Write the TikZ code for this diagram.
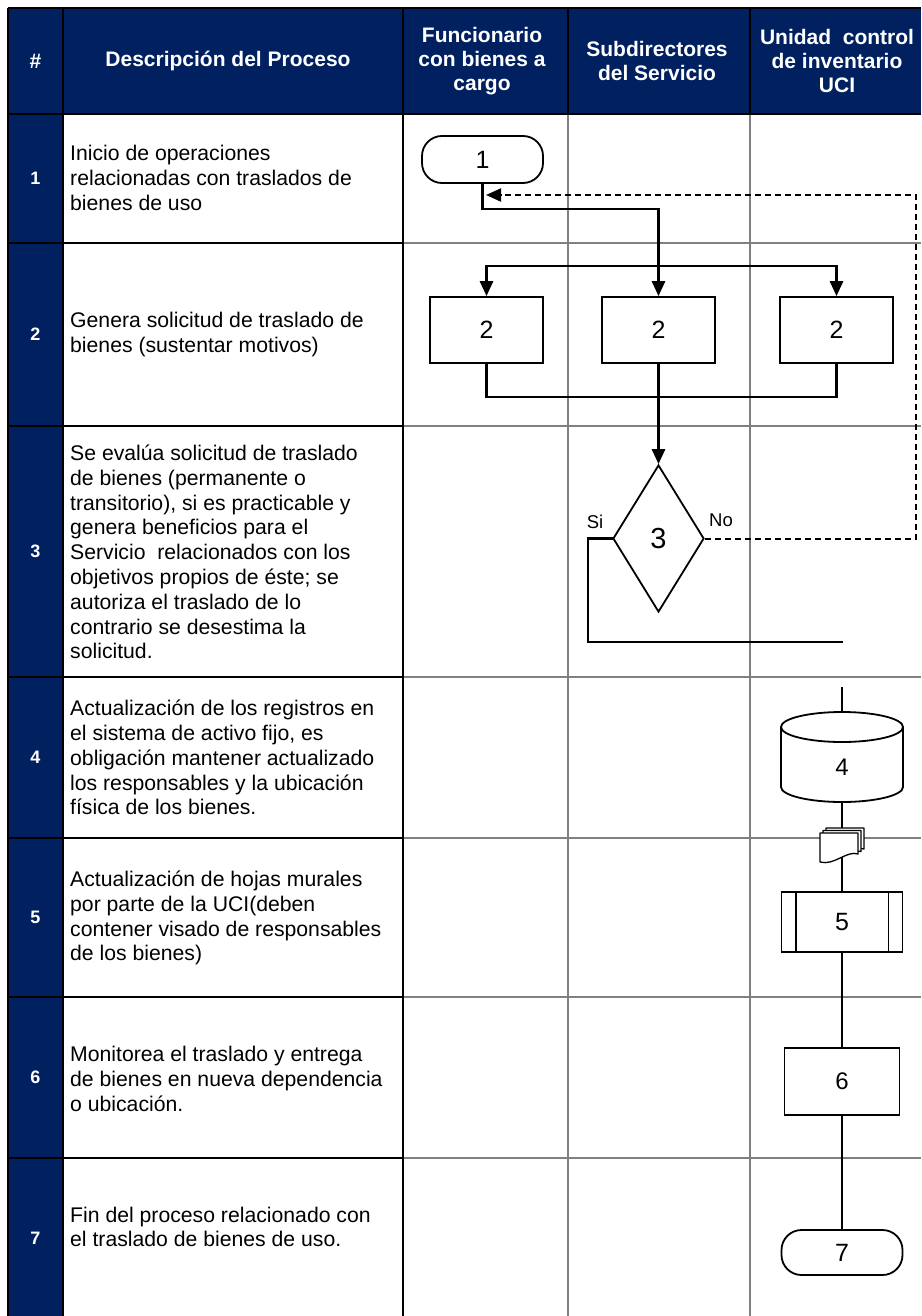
\documentclass[tikz,border=0pt]{standalone}
\usepackage{fontspec}
\setmainfont{Liberation Sans}
\usetikzlibrary{arrows.meta,shapes.geometric,calc}
\definecolor{hdrblue}{RGB}{0,32,96}
\definecolor{gridgrey}{RGB}{128,128,128}
\begin{document}
\begin{tikzpicture}[x=1pt,y=-1pt,
  blackline/.style={line width=2.5pt,black},
  greyline/.style={line width=2pt,gridgrey},
  flow/.style={line width=2.8pt,black,line cap=rect},
  flowarrow/.style={line width=2.8pt,black,-{Triangle[length=15pt,width=13pt]}},
  noflow/.style={line width=2pt,black,dash pattern=on 6pt off 4pt,-{Triangle[length=15pt,width=13pt]}},
  shp/.style={draw,line width=1.8pt,fill=white,inner sep=0pt,font=\fontsize{25}{30}\selectfont},
  desc/.style={anchor=west,align=left,inner sep=0pt,font=\fontsize{21.2}{24.8}\selectfont},
  num/.style={text=white,inner sep=0pt,font=\bfseries\fontsize{18}{22}\selectfont},
  hdr/.style={text=white,align=center,inner sep=0pt,font=\bfseries\fontsize{21}{24}\selectfont},
  lbl/.style={inner sep=0pt,font=\fontsize{18.5}{22}\selectfont}
]
\useasboundingbox[fill=white] (0,0) rectangle (921,1316);
% fills
\fill[hdrblue] (8,8) rectangle (921,114);
\fill[hdrblue] (8,114) rectangle (63,1316);
% grey grid
\foreach \yy in {243,426,677,838,997,1158} \draw[greyline] (403,\yy) -- (921,\yy);
\draw[greyline] (568,114) -- (568,1316);
\draw[greyline] (750,114) -- (750,1316);
% black grid
\draw[blackline] (8,8) -- (921,8);
\draw[blackline] (8,114) -- (921,114);
\draw[blackline] (8,8) -- (8,1316);
\draw[blackline] (63,8) -- (63,1316);
\draw[blackline] (403,8) -- (403,1316);
\draw[blackline] (568,8) -- (568,114);
\draw[blackline] (750,8) -- (750,114);
\foreach \yy in {243,426,677,838,997,1158} \draw[blackline] (8,\yy) -- (403,\yy);
% header
\node[hdr] (h0) at (35.5,61) {\#};
\node[hdr] (h1) at (228,61) {Descripción del Proceso};
\node[hdr] (h2) at (482,61) {Funcionario\\con bienes a\\cargo};
\node[hdr] (h3) at (657,61) {Subdirectores\\del Servicio};
\node[hdr] (h4) at (837,61) {Unidad~ control\\de inventario\\UCI};
% row numbers
\node[num] (n1) at (35.5,178.5) {1};
\node[num] (n2) at (35.5,334.5) {2};
\node[num] (n3) at (35.5,551.5) {3};
\node[num] (n4) at (35.5,757.5) {4};
\node[num] (n5) at (35.5,917.5) {5};
\node[num] (n6) at (35.5,1077.5) {6};
\node[num] (n7) at (35.5,1238) {7};
% descriptions
\node[desc] (tx1) at (70,178) {Inicio de operaciones\\relacionadas con traslados de\\bienes de uso};
\node[desc] (tx2) at (70,334.5) {Genera solicitud de traslado de\\bienes (sustentar motivos)};
\node[desc] (tx3) at (70,552) {Se evalúa solicitud de traslado\\de bienes (permanente o\\transitorio), si es practicable y\\genera beneficios para el\\Servicio~ relacionados con los\\objetivos propios de éste; se\\autoriza el traslado de lo\\contrario se desestima la\\solicitud.};
\node[desc] (tx4) at (70,757.5) {Actualización de los registros en\\el sistema de activo fijo, es\\obligación mantener actualizado\\los responsables y la ubicación\\física de los bienes.};
\node[desc] (tx5) at (70,918) {Actualización de hojas murales\\por parte de la UCI(deben\\contener visado de responsables\\de los bienes)};
\node[desc] (tx6) at (70,1079) {Monitorea el traslado y entrega\\de bienes en nueva dependencia\\o ubicación.};
\node[desc] (tx7) at (70,1227) {Fin del proceso relacionado con\\el traslado de bienes de uso.};
% flow shapes
\node[shp,rounded corners=20pt,minimum width=121pt,minimum height=47pt] (t1) at (482.5,159.5) {1};
\node[shp,minimum width=113pt,minimum height=66pt] (b2a) at (486.5,330) {2};
\node[shp,minimum width=113pt,minimum height=66pt] (b2b) at (658.5,330) {2};
\node[shp,minimum width=113pt,minimum height=66pt] (b2c) at (836.5,330) {2};
\node[shp,diamond,minimum width=91pt,minimum height=147pt,font=\fontsize{29}{32}\selectfont] (d3) at (658.5,538.5) {3};
\node[lbl] (si) at (595,522) {Si};
\node[lbl] (no) at (721,520) {No};
% connectors rows 1-3
\coordinate (j1) at (658.5,209);
\coordinate (s1) at (486.5,266);
\coordinate (s3) at (836.5,266);
\coordinate (mj) at (658.5,397);
\draw[flow] (t1.south) |- (j1);
\draw[flow] (s1) -- (s3);
\draw[flowarrow] (j1) -- (b2b.north);
\draw[flowarrow] (s1) -- (b2a.north);
\draw[flowarrow] (s3) -- (b2c.north);
\draw[flow] (b2a.south) |- (mj) -| (b2c.south);
\draw[flowarrow] (b2b.south) -- (d3.north);
\coordinate (sicorner) at (588,538.5);
\coordinate (siend) at (842,642);
\draw[flow] (d3.west) -- (sicorner) |- (siend);
\coordinate (nocorner) at (916,195);
\coordinate (ret) at (486,195);
\draw[noflow] (d3.east) -| (nocorner) -- (ret);
% lower chain
\node[minimum width=122pt,minimum height=90pt,inner sep=0pt] (cyl) at (842,757) {};
\node[shp,minimum width=121pt,minimum height=60pt] (b5) at (842,922) {5};
\node[shp,minimum width=115pt,minimum height=67pt,font=\fontsize{24}{28}\selectfont] (b6) at (842,1081.5) {6};
\node[shp,rounded corners=20pt,minimum width=121pt,minimum height=45pt] (t7) at (842,1252.5) {7};
\coordinate (c4in) at (842,688);
\draw[flow] (c4in) -- (cyl.north);
\draw[flow] (cyl.south) -- (b5.north);
\draw[flow] (b5.south) -- (b6.north);
\draw[flow] (b6.south) -- (t7.north);
% cylinder body
\filldraw[fill=white,line width=1.8pt] (781,727) -- (781,787) arc[start angle=180,end angle=360,x radius=61pt,y radius=15pt] -- (903,727);
\filldraw[fill=white,line width=1.8pt] (842,727) ellipse [x radius=61pt,y radius=15pt];
\node[inner sep=0pt,font=\fontsize{24}{28}\selectfont] (c4) at (842,767) {4};
% predefined process bars
\draw[line width=1.8pt] ($(b5.north west)+(15,0)$) -- ($(b5.south west)+(15,0)$);
\draw[line width=1.8pt] ($(b5.north east)+(-15,0)$) -- ($(b5.south east)+(-15,0)$);
% multi-document icon
\coordinate (doc) at (842,846);
\begin{scope}[shift={(doc)}]
\foreach \dx/\dy in {6/5,3/2.5,0/0}
  \filldraw[fill=white,line width=1.3pt,line join=round]
    (-22+\dx,-13-\dy) -- (16+\dx,-13-\dy) -- (16+\dx,8-\dy)
    .. controls (5+\dx,4-\dy) and (-8+\dx,20-\dy) .. (-22+\dx,16-\dy) -- cycle;
\end{scope}
\end{tikzpicture}
\end{document}
